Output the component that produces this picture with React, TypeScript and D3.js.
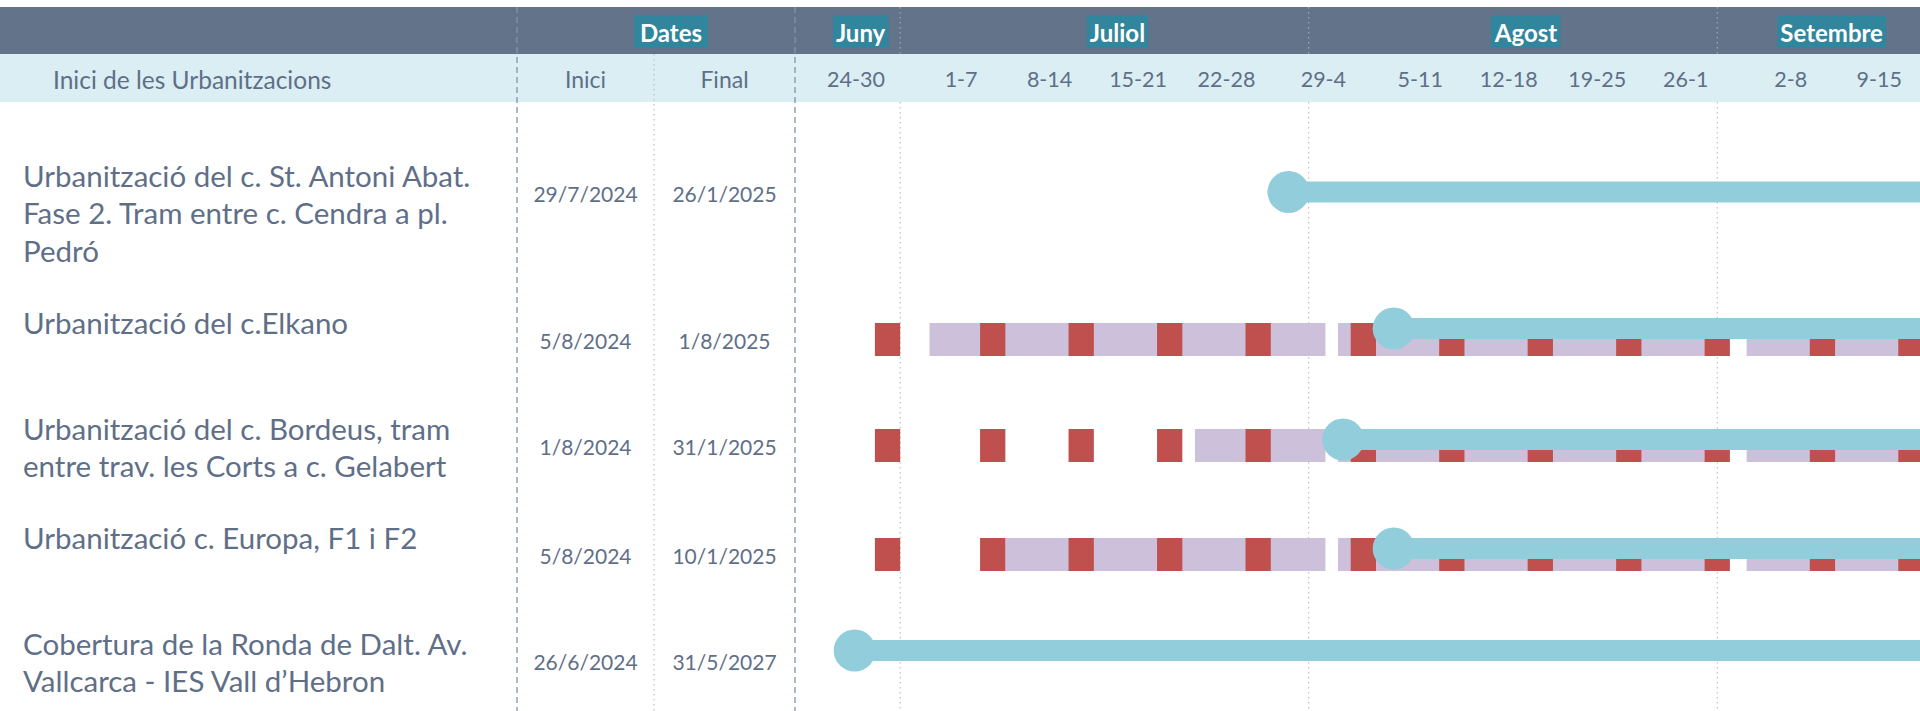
import { useEffect, useRef } from "react";
import * as d3 from "d3";

// Project rows (label lines as they wrap in the table)
const projectLines: string[][] = [
  ["Urbanització del c. St. Antoni Abat.", "Fase 2. Tram entre c. Cendra a pl.", "Pedró"],
  ["Urbanització del c.Elkano"],
  ["Urbanització del c. Bordeus, tram", "entre trav. les Corts a c. Gelabert"],
  ["Urbanització c. Europa, F1 i F2"],
  ["Cobertura de la Ronda de Dalt. Av.", "Vallcarca - IES Vall d’Hebron"],
];
const startDates = ["29/7/2024", "5/8/2024", "1/8/2024", "5/8/2024", "26/6/2024"];
const endDates = ["26/1/2025", "1/8/2025", "31/1/2025", "10/1/2025", "31/5/2027"];

// rows that show the day calendar (weekends + work periods)
const calendarRows = [false, true, true, true, false];
const workPeriods: string[][][] = [
  [],
  [["2/7/2024", "31/7/2024"], ["2/8/2024", "31/8/2024"], ["2/9/2024", "30/9/2024"]],
  [["23/7/2024", "31/7/2024"], ["2/8/2024", "31/8/2024"], ["2/9/2024", "30/9/2024"]],
  [["8/7/2024", "31/7/2024"], ["2/8/2024", "31/8/2024"], ["2/9/2024", "30/9/2024"]],
  [],
];

const weekLabels = ["24-30", "1-7", "8-14", "15-21", "22-28", "29-4", "5-11", "12-18", "19-25", "26-1", "2-8", "9-15"];
const monthLabels = ["Juny", "Juliol", "Agost", "Setembre"];
const firstWeek = "24/6/2024";

const WIDTH = 1920;
const HEIGHT = 711;
const DAY = 12.64;
const GAP = 16.7;
const COL_LABEL_END = 517;
const COL_INICI_END = 654;
const TL_LEFT = 795;

const C_DARK = "#637389";
const C_BOX = "#31859c";
const C_LIGHT = "#daeef3";
const C_TEXT = "#5f6f88";
const C_RED = "#c0504d";
const C_PURPLE = "#ccc0da";
const C_BLUE = "#92cddc";
const FONT = "Lato, 'Open Sans', sans-serif";

const parse = d3.utcParse("%d/%m/%Y");

function toMonday(d: Date) {
  let out = d;
  while (out.getUTCDay() === 0 || out.getUTCDay() === 6) out = d3.utcDay.offset(out, 1);
  return out;
}

export default function App() {
  const ref = useRef<SVGSVGElement | null>(null);

  useEffect(() => {
    const svg = d3.select(ref.current);
    svg.selectAll("*").remove();

    // --- day scale split in month blocks with a small gap between them
    const day0 = parse(firstWeek) as Date;
    const lastDay = new Date(Date.UTC(2027, 11, 31));
    const blockStarts = [day0, ...d3.utcMonth.range(d3.utcMonth.ceil(d3.utcDay.offset(day0, 1)), lastDay).map(toMonday)];
    let cursor = TL_LEFT;
    const blocks = blockStarts.map((s, i) => {
      const e = blockStarts[i + 1] ?? lastDay;
      const x0 = cursor + GAP;
      const x1 = x0 + d3.utcDay.count(s, e) * DAY;
      cursor = x1;
      return { start: s, end: e, scale: d3.scaleUtc().domain([s, e]).range([x0, x1]) };
    });
    const x = (d: Date) => {
      const b = blocks.find((b) => d >= b.start && d < b.end) ?? blocks[blocks.length - 1];
      return b.scale(d);
    };
    const xEndOf = (d: Date) => x(d) + DAY;

    const rowIdx = d3.range(projectLines.length);
    const y = d3.scaleOrdinal<number, number>().domain(rowIdx).range([193, 340, 446, 555, 661]);
    const yBar = d3.scaleOrdinal<number, number>().domain(rowIdx).range([192, 328.5, 439.5, 548.5, 650.5]);

    // --- header bands
    svg.append("rect").attr("x", 0).attr("y", 7).attr("width", WIDTH).attr("height", 47).attr("fill", C_DARK);

    // month dividers (dotted)
    const monthStarts = d3.utcMonth.range(new Date(Date.UTC(2024, 6, 1)), new Date(Date.UTC(2024, 9, 1)));
    const dividers = monthStarts.map((m) => xEndOf(d3.utcDay.offset(m, -1)));
    svg
      .append("g")
      .selectAll("line")
      .data(dividers)
      .join("line")
      .attr("x1", (d) => d)
      .attr("x2", (d) => d)
      .attr("y1", 7)
      .attr("y2", HEIGHT)
      .attr("stroke", "#b4b4b4")
      .attr("stroke-width", 1)
      .attr("stroke-dasharray", "1.5 3.5");

    svg.append("rect").attr("x", 0).attr("y", 54).attr("width", WIDTH).attr("height", 48).attr("fill", C_LIGHT);

    // column separators
    svg
      .append("line")
      .attr("x1", COL_INICI_END)
      .attr("x2", COL_INICI_END)
      .attr("y1", 54)
      .attr("y2", HEIGHT)
      .attr("stroke", "#b4b4b4")
      .attr("stroke-dasharray", "1.5 3.5");
    svg
      .append("g")
      .selectAll("line")
      .data([COL_LABEL_END, TL_LEFT])
      .join("line")
      .attr("x1", (d) => d)
      .attr("x2", (d) => d)
      .attr("y1", 7)
      .attr("y2", HEIGHT)
      .attr("stroke", "#8293ab")
      .attr("stroke-width", 1.3)
      .attr("stroke-dasharray", "6 4");

    // header boxes: "Dates" + months
    const regions = [TL_LEFT, ...dividers, WIDTH];
    const boxItems = [
      { label: "Dates", cx: (COL_LABEL_END + TL_LEFT) / 2 + 15, pad: 6 },
      ...monthLabels.map((m, i) => ({ label: m, cx: (regions[i] + regions[i + 1]) / 2 + 13, pad: 3 })),
    ];
    const boxes = svg.append("g").selectAll("g").data(boxItems).join("g");
    const boxText = boxes
      .append("text")
      .attr("x", (d) => d.cx)
      .attr("y", 32)
      .attr("text-anchor", "middle")
      .attr("dominant-baseline", "central")
      .attr("font-family", FONT)
      .attr("font-weight", 700)
      .attr("font-size", 24)
      .attr("fill", "#fff")
      .text((d) => d.label);
    boxText.each(function (d) {
      const bb = (this as SVGTextElement).getBBox();
      d3.select((this as SVGTextElement).parentNode as SVGGElement)
        .insert("rect", "text")
        .attr("x", bb.x - d.pad)
        .attr("y", 15)
        .attr("width", bb.width + 2 * d.pad)
        .attr("height", 33)
        .attr("fill", C_BOX);
    });

    // sub header texts
    const sub = svg.append("g").attr("font-family", FONT).attr("fill", C_TEXT);
    sub
      .append("text")
      .attr("x", 53)
      .attr("y", 79)
      .attr("font-size", 24.5)
      .attr("dominant-baseline", "central")
      .text("Inici de les Urbanitzacions");
    sub
      .append("text")
      .attr("x", (COL_LABEL_END + COL_INICI_END) / 2)
      .attr("y", 79)
      .attr("font-size", 23)
      .attr("text-anchor", "middle")
      .attr("dominant-baseline", "central")
      .text("Inici");
    sub
      .append("text")
      .attr("x", (COL_INICI_END + TL_LEFT) / 2)
      .attr("y", 79)
      .attr("font-size", 23)
      .attr("text-anchor", "middle")
      .attr("dominant-baseline", "central")
      .text("Final");
    const weeks = d3.utcMonday.range(day0, d3.utcDay.offset(day0, weekLabels.length * 7));
    sub
      .selectAll("text.week")
      .data(weeks)
      .join("text")
      .attr("class", "week")
      .attr("x", (d) => (x(d) + xEndOf(d3.utcDay.offset(d, 6))) / 2)
      .attr("y", 79)
      .attr("font-size", 21.5)
      .attr("text-anchor", "middle")
      .attr("dominant-baseline", "central")
      .text((_, i) => weekLabels[i]);

    // --- rows
    const rows = svg.append("g");
    const saturdays = d3.utcSaturday.range(day0, new Date(Date.UTC(2024, 9, 1)));
    projectLines.forEach((lines, i) => {
      const cy = y(i);
      const g = rows.append("g");

      g.append("text")
        .attr("font-family", FONT)
        .attr("font-size", 29.5)
        .attr("fill", C_TEXT)
        .selectAll("tspan")
        .data(lines)
        .join("tspan")
        .attr("x", 23)
        .attr("y", (_, j) => cy - 18 + j * 37.5)
        .attr("dominant-baseline", "central")
        .text((d) => d);

      g.append("text")
        .attr("x", (COL_LABEL_END + COL_INICI_END) / 2)
        .attr("y", cy)
        .attr("text-anchor", "middle")
        .attr("dominant-baseline", "central")
        .attr("font-family", FONT)
        .attr("font-size", 21)
        .attr("fill", C_TEXT)
        .text(startDates[i]);
      g.append("text")
        .attr("x", (COL_INICI_END + TL_LEFT) / 2)
        .attr("y", cy)
        .attr("text-anchor", "middle")
        .attr("dominant-baseline", "central")
        .attr("font-family", FONT)
        .attr("font-size", 21)
        .attr("fill", C_TEXT)
        .text(endDates[i]);

      if (calendarRows[i]) {
        g.selectAll("rect.work")
          .data(workPeriods[i])
          .join("rect")
          .attr("class", "work")
          .attr("x", (d) => x(parse(d[0]) as Date))
          .attr("width", (d) => x(d3.utcDay.offset(parse(d[1]) as Date, 1)) - x(parse(d[0]) as Date))
          .attr("y", cy - 17)
          .attr("height", 33)
          .attr("fill", C_PURPLE);
        g.selectAll("rect.weekend")
          .data(saturdays)
          .join("rect")
          .attr("class", "weekend")
          .attr("x", (d) => x(d))
          .attr("width", 2 * DAY)
          .attr("y", cy - 17)
          .attr("height", 33)
          .attr("fill", C_RED);
      }

      const s = parse(startDates[i]) as Date;
      const e = parse(endDates[i]) as Date;
      const bx = x(s) + 1.4 * DAY;
      const by = yBar(i);
      g.append("rect")
        .attr("x", bx)
        .attr("y", by - 10.5)
        .attr("width", Math.min(xEndOf(e), WIDTH + 10) - bx)
        .attr("height", 21)
        .attr("fill", C_BLUE);
      g.append("circle").attr("cx", bx).attr("cy", by).attr("r", 21).attr("fill", C_BLUE);
    });
  }, []);

  return (
    <svg
      ref={ref}
      width={WIDTH}
      height={HEIGHT}
      style={{ position: "absolute", left: 0, top: 0, background: "#fff" }}
    />
  );
}
